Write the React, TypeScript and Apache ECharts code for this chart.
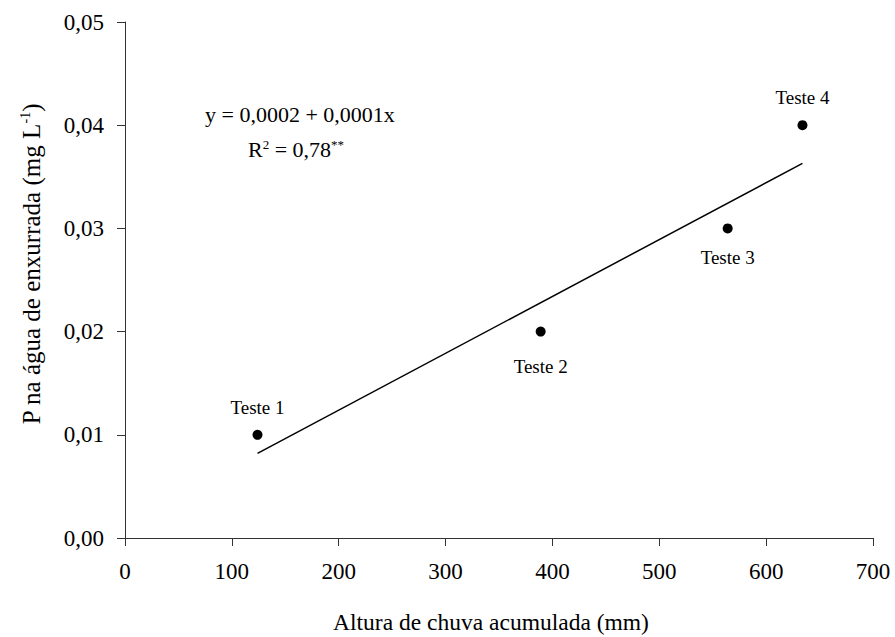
import React, { useEffect, useRef } from "react";
import * as echarts from "echarts";

const testNames = ["Teste 1", "Teste 2", "Teste 3", "Teste 4"];
const rainfall = [124, 389, 564, 634];
const phosphorus = [0.01, 0.02, 0.03, 0.04];
const labelPositions = ["top", "bottom", "bottom", "top"];
const fitX = [124, 634];
const fitY = [0.0082, 0.0363];
const xTicks = [0, 100, 200, 300, 400, 500, 600, 700];
const yTicks = [0, 0.01, 0.02, 0.03, 0.04, 0.05];

const FONT = "'Liberation Serif', 'Times New Roman', serif";

export default function App() {
  const ref = useRef<HTMLDivElement>(null);
  useEffect(() => {
    if (!ref.current) return;
    const chart = echarts.init(ref.current, null, { renderer: "svg" });
    const axisColor = "#333";
    chart.setOption({
      animation: false,
      backgroundColor: "#fff",
      textStyle: { fontFamily: FONT, color: "#000" },
      grid: { left: 125, right: 22, top: 22, bottom: 99 },
      xAxis: {
        type: "value",
        min: xTicks[0],
        max: xTicks[xTicks.length - 1],
        interval: 100,
        splitLine: { show: false },
        axisLine: { show: true, lineStyle: { color: axisColor, width: 1 } },
        axisTick: { show: true, length: 8, lineStyle: { color: axisColor } },
        axisLabel: { fontSize: 23, fontFamily: FONT, color: "#000", margin: 22 },
      },
      yAxis: {
        type: "value",
        min: yTicks[0],
        max: yTicks[yTicks.length - 1],
        interval: 0.01,
        splitLine: { show: false },
        axisLine: { show: true, lineStyle: { color: axisColor, width: 1 } },
        axisTick: { show: true, length: 8, lineStyle: { color: axisColor } },
        axisLabel: {
          fontSize: 23,
          fontFamily: FONT,
          color: "#000",
          margin: 21,
          formatter: (v: number) => v.toFixed(2).replace(".", ","),
        },
      },
      series: [
        {
          type: "line",
          data: fitX.map((x, i) => [x, fitY[i]]),
          showSymbol: false,
          symbol: "none",
          lineStyle: { color: "#000", width: 1.5 },
          silent: true,
        },
        {
          type: "scatter",
          symbol: "circle",
          symbolSize: 10,
          itemStyle: { color: "#000", opacity: 1 },
          data: rainfall.map((x, i) => ({
            value: [x, phosphorus[i]],
            name: testNames[i],
            label: {
              show: true,
              position: labelPositions[i],
              distance: labelPositions[i] === "top" ? 13 : i === 1 ? 20 : 15,
              formatter: testNames[i],
              fontSize: 19,
              fontFamily: FONT,
              color: "#000",
            },
          })),
        },
      ],
      graphic: [
        {
          type: "text",
          left: 205,
          top: 103,
          style: {
            text: "y = 0,0002 + 0,0001x",
            font: `22px ${FONT}`,
            fill: "#000",
          },
        },
        {
          type: "text",
          left: 248,
          top: 138,
          style: {
            text: "R{s|2} = 0,78{s|**}",
            font: `22px ${FONT}`,
            fill: "#000",
            rich: {
              s: { fontSize: 13, fontFamily: FONT, fill: "#000", verticalAlign: "top", padding: [0, 0, 10, 0] },
            },
          },
        },
        {
          type: "text",
          x: 491,
          y: 622,
          style: {
            text: "Altura de chuva acumulada (mm)",
            font: `23.5px ${FONT}`,
            fill: "#000",
            align: "center",
            verticalAlign: "middle",
          },
        },
        {
          type: "text",
          x: 31,
          y: 264,
          rotation: Math.PI / 2,
          style: {
            text: "P na água de enxurrada (mg L{s|-1})",
            font: `25px ${FONT}`,
            fill: "#000",
            align: "center",
            verticalAlign: "middle",
            rich: {
              s: { fontSize: 14, fontFamily: FONT, fill: "#000", verticalAlign: "top", padding: [0, 0, 11, 0] },
            },
          },
        },
      ],
    });
    return () => chart.dispose();
  }, []);
  return (
    <div
      ref={ref}
      style={{ position: "fixed", left: 0, top: 0, width: 895, height: 637, background: "#fff" }}
    />
  );
}
